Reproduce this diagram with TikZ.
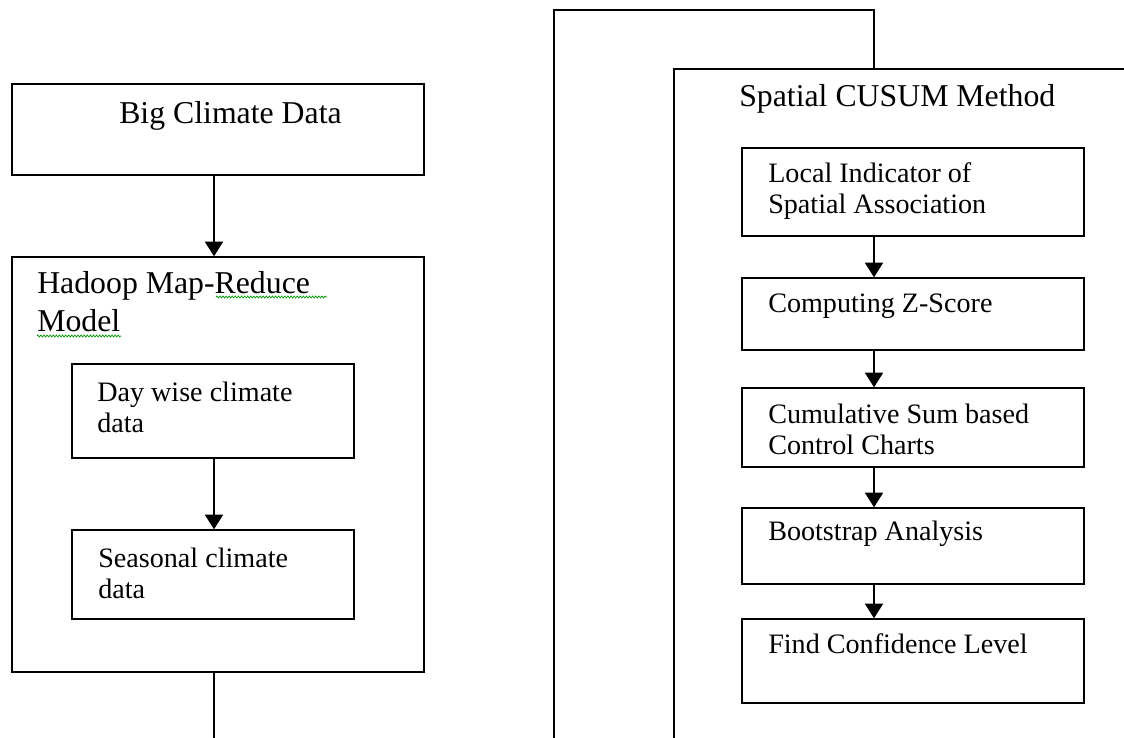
\documentclass[tikz,border=0pt]{standalone}
\usepackage{fontspec}
\setmainfont{Liberation Serif}
\usetikzlibrary{arrows.meta, fit, decorations.pathmorphing}

\tikzset{
	box/.style={draw, line width=1pt, inner sep=0pt, fit={#1}},
	hdr/.style={font=\fontsize{22.6}{27}\selectfont, anchor=base west, align=left, inner sep=0pt},
	txt/.style={font=\fontsize{20}{22}\selectfont, anchor=base west, align=left, inner sep=0pt},
	flow/.style={->, line width=1pt},
	wire/.style={line width=1pt},
	spell/.style={draw=green!60!black, line width=.5pt, decorate,
		decoration={zigzag, segment length=2.2pt, amplitude=.7pt}}
}

\begin{document}
\begin{tikzpicture}[x=0.025cm, y=-0.025cm, >={Triangle[width=13pt, length=10.5pt]}]
	\useasboundingbox (0,0) rectangle (1124,737);
	\clip (0,0) rectangle (1124,737);
%	left column (two-line texts sit on the baseline of their last line)
	\node[box={(12,84) (424,175)}] (big) {};
	\node[hdr] (bigT) at (119,123) {Big Climate Data};
	\node[box={(12,257) (424,672)}] (hadoop) {};
	\node[hdr] (hadoopT) at (37,331) {Hadoop Map-Reduce\\Model};
	\node[box={(72,364) (354,458)}] (day) {};
	\node[txt] (dayT) at (97,432) {Day wise climate\\data};
	\node[box={(72,530) (354,619)}] (season) {};
	\node[txt] (seasonT) at (98,598) {Seasonal climate\\data};
	
	\draw[spell] (216,297) -- (327,297);
	\draw[spell] (37,336) -- (121,336);
	
	\coordinate (lx) at (214,0);
	\coordinate (down) at (214,760);
	\draw[flow] (big.south -| lx) -- (hadoop.north -| lx);
	\draw[flow] (day.south -| lx) -- (season.north -| lx);
	\draw[wire] (hadoop.south -| lx) -- (down);
	
%	right column
	\coordinate (rx) at (874,0);
	\coordinate (up) at (554,760);
	\coordinate (topc) at (874,10);
	\node[box={(674,69) (1160,780)}] (cusum) {};
	\node[hdr] (cusumT) at (739,106) {Spatial CUSUM Method};
	\draw[wire] (up) |- (topc) -- (cusum.north -| rx);
	
	\node[box={(742,148) (1084,236)}] (lisa) {};
	\node[txt] (lisaT) at (768,213) {Local Indicator of\\Spatial Association};
	\node[box={(742,278) (1084,350)}] (zscore) {};
	\node[txt] (zscoreT) at (768,312) {Computing Z-Score};
	\node[box={(742,388) (1084,467)}] (chart) {};
	\node[txt] (chartT) at (768,454) {Cumulative Sum based\\Control Charts};
	\node[box={(742,508) (1084,584)}] (boot) {};
	\node[txt] (bootT) at (768,540) {Bootstrap Analysis};
	\node[box={(742,619) (1084,703)}] (conf) {};
	\node[txt] (confT) at (768,653) {Find Confidence Level};
	
	\foreach \a/\b in {lisa/zscore, zscore/chart, chart/boot, boot/conf}
		\draw[flow] (\a.south -| rx) -- (\b.north -| rx);
\end{tikzpicture}
\end{document}
